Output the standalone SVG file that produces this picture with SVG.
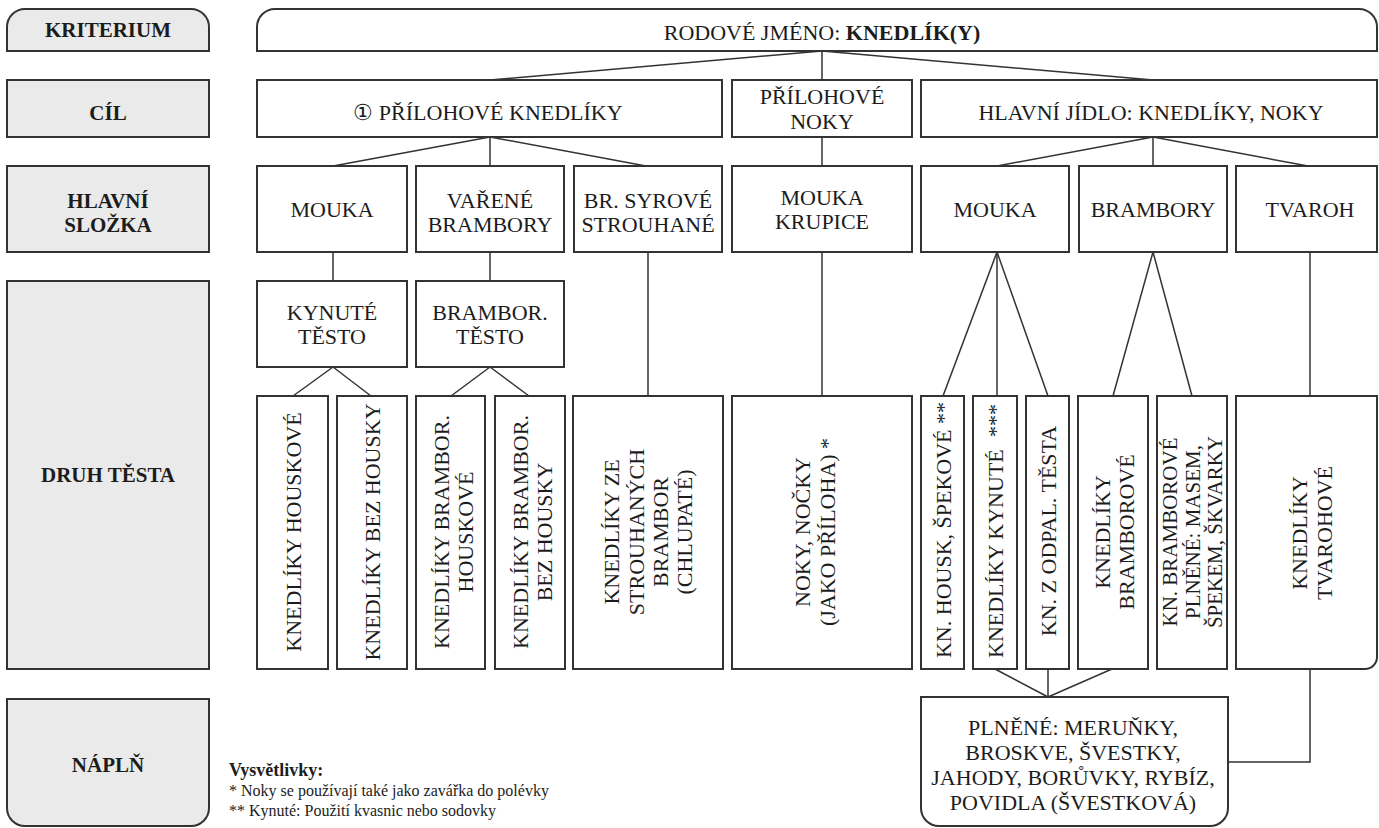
<svg xmlns="http://www.w3.org/2000/svg" width="1379" height="828" viewBox="0 0 1379 828" font-family="Liberation Serif, serif">
<style>
.lab{fill:#e9eae9;stroke:#333;stroke-width:2}
.box{fill:#fff;stroke:#333;stroke-width:2}
text{font-family:'Liberation Serif',serif;font-size:22px;fill:#1c1c1c;text-anchor:middle}
.b{font-weight:bold;font-size:21px}
.s{font-size:21px}
.lg{text-anchor:start;font-size:16px}
.lh{font-weight:bold;font-size:18px}
.con line,.con path{stroke:#333;stroke-width:1.5;fill:none}
</style>
<rect width="1379" height="828" fill="#fff"/>
<g id="k-kriterium"><path class="lab" d="M7,51 V27 A18,18 0 0 1 25,9 H191 A18,18 0 0 1 209,27 V51 Z"/><text class="b" x="108" y="37">KRITERIUM</text></g>
<g id="k-cil"><rect class="lab" x="7" y="80" width="202" height="57"/><text class="b" x="108" y="120">CÍL</text></g>
<g id="k-hlavni"><rect class="lab" x="7" y="166" width="202" height="86"/><text class="b" x="108" y="208">HLAVNÍ</text><text class="b" x="108" y="232">SLOŽKA</text></g>
<g id="k-druh"><rect class="lab" x="7" y="281" width="202" height="388"/><text class="b" x="108" y="482">DRUH TĚSTA</text></g>
<g id="k-napln"><path class="lab" d="M7,699 H209 V808 A18,18 0 0 1 191,826 H25 A18,18 0 0 1 7,808 Z"/><text class="b" x="108" y="772">NÁPLŇ</text></g>

<g id="connectors" class="con">
<line x1="822" y1="51" x2="490" y2="80"/>
<line x1="822" y1="51" x2="822" y2="80"/>
<line x1="822" y1="51" x2="1153" y2="80"/>
<line x1="490" y1="137" x2="333" y2="166"/>
<line x1="490" y1="137" x2="490" y2="166"/>
<line x1="490" y1="137" x2="646" y2="166"/>
<line x1="822" y1="137" x2="822" y2="166"/>
<line x1="1153" y1="137" x2="997" y2="166"/>
<line x1="1153" y1="137" x2="1153" y2="166"/>
<line x1="1153" y1="137" x2="1308" y2="166"/>
<line x1="333" y1="252" x2="333" y2="281"/>
<line x1="490" y1="252" x2="490" y2="281"/>
<line x1="648" y1="252" x2="648" y2="396"/>
<line x1="822" y1="252" x2="822" y2="396"/>
<line x1="997" y1="252" x2="943" y2="396"/>
<line x1="997" y1="252" x2="997" y2="396"/>
<line x1="997" y1="252" x2="1048" y2="396"/>
<line x1="1153" y1="252" x2="1113" y2="396"/>
<line x1="1153" y1="252" x2="1192" y2="396"/>
<line x1="1310" y1="252" x2="1310" y2="396"/>
<line x1="333" y1="367" x2="293" y2="396"/>
<line x1="333" y1="367" x2="371" y2="396"/>
<line x1="490" y1="367" x2="451" y2="396"/>
<line x1="490" y1="367" x2="529" y2="396"/>
<line x1="995" y1="669" x2="1048" y2="697"/>
<line x1="1048" y1="669" x2="1048" y2="697"/>
<line x1="1112" y1="669" x2="1048" y2="697"/>
<path d="M1310,669 V762 H1228"/>
</g>

<g id="n-rodove"><path class="box" d="M257,51 V27 A18,18 0 0 1 275,9 H1359 A18,18 0 0 1 1377,27 V51 Z"/><text x="822" y="40">RODOVÉ JMÉNO: <tspan font-weight="bold">KNEDLÍK(Y)</tspan></text></g>
<g id="n-prilohove-knedliky"><rect class="box" x="257" y="80" width="465" height="57"/><text x="488" y="120">① PŘÍLOHOVÉ KNEDLÍKY</text></g>
<g id="n-prilohove-noky"><rect class="box" x="732" y="80" width="180" height="57"/><text x="822" y="104">PŘÍLOHOVÉ</text><text x="822" y="129">NOKY</text></g>
<g id="n-hlavni-jidlo"><rect class="box" x="921" y="80" width="456" height="57"/><text x="1151" y="120">HLAVNÍ JÍDLO: KNEDLÍKY, NOKY</text></g>
<g id="n-mouka1"><rect class="box" x="257" y="166" width="150" height="86"/><text x="332" y="217">MOUKA</text></g>
<g id="n-varene"><rect class="box" x="416" y="166" width="148" height="86"/><text x="490" y="208">VAŘENÉ</text><text x="490" y="232">BRAMBORY</text></g>
<g id="n-syrove"><rect class="box" x="574" y="166" width="148" height="86"/><text x="648" y="208">BR. SYROVÉ</text><text x="648" y="232">STROUHANÉ</text></g>
<g id="n-krupice"><rect class="box" x="732" y="166" width="180" height="86"/><text x="822" y="205">MOUKA</text><text x="822" y="229">KRUPICE</text></g>
<g id="n-mouka2"><rect class="box" x="921" y="166" width="148" height="86"/><text x="995" y="217">MOUKA</text></g>
<g id="n-brambory"><rect class="box" x="1079" y="166" width="148" height="86"/><text x="1153" y="217">BRAMBORY</text></g>
<g id="n-tvaroh"><rect class="box" x="1236" y="166" width="141" height="86"/><text x="1310" y="217">TVAROH</text></g>
<g id="n-kynute-testo"><rect class="box" x="257" y="281" width="150" height="86"/><text x="332" y="320">KYNUTÉ</text><text x="332" y="344">TĚSTO</text></g>
<g id="n-brambor-testo"><rect class="box" x="416" y="281" width="148" height="86"/><text x="490" y="320">BRAMBOR.</text><text x="490" y="344">TĚSTO</text></g>
<g id="n-housk"><rect class="box" x="257" y="396" width="71" height="273"/><text transform="rotate(-90)" x="-532" y="301">KNEDLÍKY HOUSKOVÉ</text></g>
<g id="n-bez-housky"><rect class="box" x="337" y="396" width="70" height="273"/><text transform="rotate(-90)" x="-532" y="380">KNEDLÍKY BEZ HOUSKY</text></g>
<g id="n-bramb-housk"><rect class="box" x="416" y="396" width="69" height="273"/><text transform="rotate(-90)"><tspan x="-532" y="449">KNEDLÍKY BRAMBOR.</tspan><tspan x="-532" y="473">HOUSKOVÉ</tspan></text></g>
<g id="n-bramb-bez"><rect class="box" x="495" y="396" width="70" height="273"/><text transform="rotate(-90)"><tspan x="-532" y="528">KNEDLÍKY BRAMBOR.</tspan><tspan x="-532" y="552">BEZ HOUSKY</tspan></text></g>
<g id="n-chlupate"><rect class="box" x="573" y="396" width="150" height="273"/><text transform="rotate(-90)"><tspan x="-532" y="619">KNEDLÍKY ZE</tspan><tspan x="-532" y="644">STROUHANÝCH</tspan><tspan x="-532" y="668">BRAMBOR</tspan><tspan x="-532" y="692">(CHLUPATÉ)</tspan></text></g>
<g id="n-noky"><rect class="box" x="732" y="396" width="180" height="273"/><text transform="rotate(-90)"><tspan x="-532" y="810">NOKY, NOČKY</tspan><tspan x="-532" y="835">(JAKO PŘÍLOHA) *</tspan></text></g>
<g id="n-spekove"><rect class="box" x="921" y="396" width="43" height="273"/><text transform="rotate(-90)" x="-530" y="951">KN. HOUSK, ŠPEKOVÉ **</text></g>
<g id="n-kynute"><rect class="box" x="973" y="396" width="44" height="273"/><text transform="rotate(-90)" style="text-anchor:start" x="-658" y="1003">KNEDLÍKY KYNUTÉ</text><text transform="rotate(-90)" style="text-anchor:start" x="-437" y="1003">***</text></g>
<g id="n-odpal"><rect class="box" x="1026" y="396" width="43" height="273"/><text transform="rotate(-90)" x="-531" y="1056">KN. Z ODPAL. TĚSTA</text></g>
<g id="n-bramborove"><rect class="box" x="1078" y="396" width="70" height="273"/><text transform="rotate(-90)"><tspan x="-532" y="1110">KNEDLÍKY</tspan><tspan x="-532" y="1134">BRAMBOROVÉ</tspan></text></g>
<g id="n-plnene-maso"><rect class="box" x="1157" y="396" width="70" height="273"/><text class="s" transform="rotate(-90)"><tspan x="-532" y="1177">KN. BRAMBOROVÉ</tspan><tspan x="-532" y="1200">PLNĚNÉ: MASEM,</tspan><tspan x="-532" y="1222">ŠPEKEM, ŠKVARKY</tspan></text></g>
<g id="n-tvarohove"><path class="box" d="M1236,396 H1377 V657 A12,12 0 0 1 1365,669 H1236 Z"/><text transform="rotate(-90)"><tspan x="-533" y="1307">KNEDLÍKY</tspan><tspan x="-533" y="1332">TVAROHOVÉ</tspan></text></g>
<g id="n-napln"><path class="box" d="M921,697 H1228 V808 A18,18 0 0 1 1210,826 H939 A18,18 0 0 1 921,808 Z"/><text x="1073" y="735">PLNĚNÉ: MERUŇKY,</text><text x="1073" y="760">BROSKVE, ŠVESTKY,</text><text x="1073" y="785">JAHODY, BORŮVKY, RYBÍZ,</text><text x="1073" y="810">POVIDLA (ŠVESTKOVÁ)</text></g>
<g id="legend"><text class="lg lh" x="229" y="776">Vysvětlivky:</text><text class="lg" x="229" y="796">* Noky se používají také jako zavářka do polévky</text><text class="lg" x="229" y="816">** Kynuté: Použití kvasnic nebo sodovky</text></g>
</svg>
